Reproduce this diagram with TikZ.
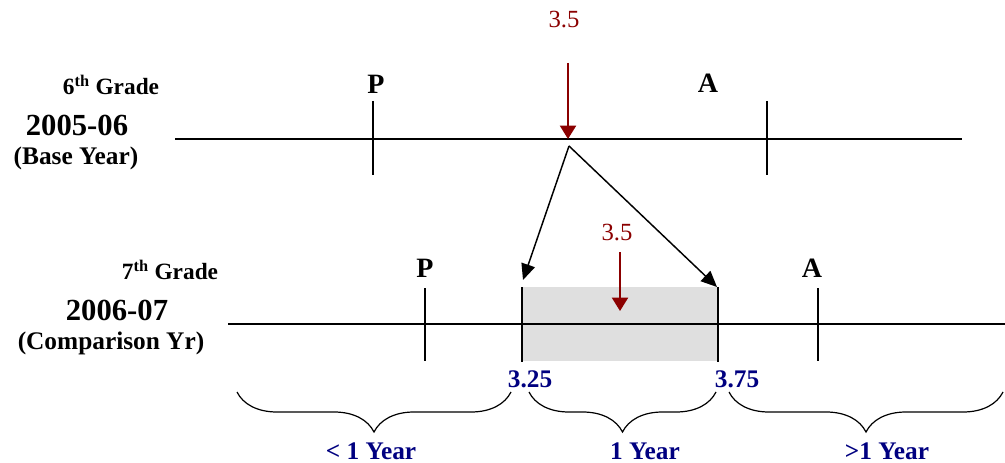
\documentclass[tikz,border=0pt]{standalone}
\usepackage{fontspec}
\setmainfont{Liberation Serif}
\usetikzlibrary{arrows.meta, positioning, calc, decorations.pathreplacing}
\definecolor{darkred}{RGB}{139, 0, 0}
\definecolor{navyblue}{RGB}{0, 0, 128}
\definecolor{boxgray}{RGB}{223, 223, 223}
\tikzset{
  axisline/.style={line width=1.6pt, black},
  tickline/.style={line width=1.6pt, black},
  valarrow/.style={-{Triangle[length=10pt, width=12pt]}, line width=1.5pt, darkred},
  maparrow/.style={-{Triangle[length=12pt, width=10.5pt]}, line width=1.1pt, black},
  yearbrace/.style={decorate, decoration={brace, mirror, amplitude=30pt}, line width=0.9pt}
}
\tikzset{
  gradelbl/.style={font=\fontsize{17.5}{19}\selectfont\bfseries},
  yearlbl/.style={font=\fontsize{23}{25}\selectfont\bfseries},
  baselbl/.style={font=\fontsize{19}{21}\selectfont\bfseries},
  marklbl/.style={font=\fontsize{21}{24}\selectfont\bfseries},
  vallbl/.style={font=\fontsize{18.5}{20}\selectfont, text=darkred},
  cutlbl/.style={font=\fontsize{19}{21}\selectfont\bfseries, text=navyblue},
  spanlbl/.style={font=\fontsize{19}{21}\selectfont\bfseries, text=navyblue}
}
\begin{document}
\begin{tikzpicture}[x=0.75pt, y=-0.75pt]
    \useasboundingbox (0,0) rectangle (1005,463);

    % Base year labels
    \node[gradelbl] (grade6) at (111,85) {6\textsuperscript{th} Grade};
    \node[yearlbl] (year6) at (77,125) {2005-06};
    \node[baselbl] (base6) at (76,158) {(Base Year)};

    % Base year axis with P and A cuts
    \coordinate (topL) at (175,139);
    \coordinate (topR) at (962,139);
    \draw[axisline] (topL) -- (topR);
    \draw[tickline] (373,101) -- (373,175);
    \draw[tickline] (767,101) -- (767,175);
    \node[marklbl] (topP) at (376,84) {P};
    \node[marklbl] (topA) at (708,83) {A};

    % Score 3.5 in base year
    \node[vallbl] (val6) at (564,20) {3.5};
    \coordinate (val6top) at (568,63);
    \coordinate (val6tip) at (568,139);
    \draw[valarrow] (val6top) -- (val6tip);

    % Comparison year labels
    \node[gradelbl] (grade7) at (170,270) {7\textsuperscript{th} Grade};
    \node[yearlbl] (year7) at (117,310) {2006-07};
    \node[baselbl] (comp7) at (111,343) {(Comparison Yr)};

    % Expected growth band
    \fill[boxgray] (522,287) rectangle (718,361);

    % Comparison year axis
    \coordinate (botL) at (228,324);
    \coordinate (botR) at (1005,324);
    \draw[axisline] (botL) -- (botR);
    \draw[tickline] (425,288) -- (425,361);
    \draw[tickline] (522,287) -- (522,362);
    \draw[tickline] (718,287) -- (718,362);
    \draw[tickline] (818,288) -- (818,361);
    \node[marklbl] (botP) at (425,268) {P};
    \node[marklbl] (botA) at (812,268) {A};

    % Score 3.5 in comparison year
    \node[vallbl] (val7) at (617,233) {3.5};
    \coordinate (val7top) at (620,252);
    \coordinate (val7tip) at (620,311);
    \draw[valarrow] (val7top) -- (val7tip);

    % Mapping arrows to the band
    \coordinate (split) at (569,146);
    \coordinate (lowcut) at (523,280);
    \coordinate (highcut) at (717,287);
    \draw[maparrow] (split) -- (lowcut);
    \draw[maparrow] (split) -- (highcut);
    \node[cutlbl] (cut1) at (530,379) {3.25};
    \node[cutlbl] (cut2) at (737,379) {3.75};

    % Growth braces
    \draw[yearbrace] (237,392) -- (511,392);
    \draw[yearbrace] (529,392) -- (716,392);
    \draw[yearbrace] (729,392) -- (1003,392);
    \node[spanlbl] (less) at (371,451) {< 1 Year};
    \node[spanlbl] (one) at (645,451) {1 Year};
    \node[spanlbl] (more) at (887,451) {>1 Year};
\end{tikzpicture}
\end{document}
